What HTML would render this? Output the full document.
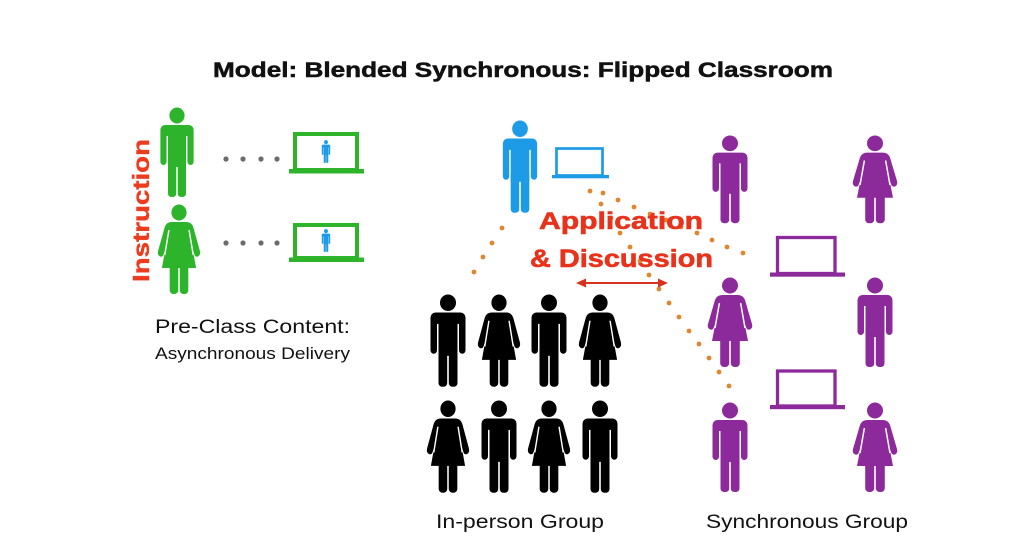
<!DOCTYPE html>
<html>
<head>
<meta charset="utf-8">
<style>
  html,body{margin:0;padding:0;background:#fff;}
  body{width:1024px;height:538px;overflow:hidden;}
  svg{display:block;}
  text{font-family:"Liberation Sans", sans-serif;}
</style>
</head>
<body>
<svg width="1024" height="538" viewBox="0 0 1024 538" xmlns="http://www.w3.org/2000/svg">
  <defs>
    <g id="M">
      <circle cx="0" cy="8.5" r="8"/>
      <rect x="-17.5" y="18" width="35" height="11" rx="5"/>
      <rect x="-17.5" y="22" width="6.5" height="36" rx="3.25"/>
      <rect x="11" y="22" width="6.5" height="36" rx="3.25"/>
      <rect x="-9.5" y="22" width="19" height="38"/>
      <rect x="-9.5" y="50" width="8.7" height="40" rx="3.6"/>
      <rect x="0.8" y="50" width="8.7" height="40" rx="3.6"/>
    </g>
    <g id="F">
      <circle cx="0" cy="8.5" r="8"/>
      <path d="M -8,18 H 8 Q 13,18 15,23 L 22,47 Q 23,51 20,52.5 Q 17,53.5 16,50 L 14.5,46 L 18,64 H -18 L -14.5,46 L -16,50 Q -17,53.5 -20,52.5 Q -23,51 -22,47 L -15,23 Q -13,18 -8,18 Z"/>
      <line x1="-10.6" y1="26" x2="-15" y2="51" stroke="#fff" stroke-width="1.5"/>
      <line x1="10.6" y1="26" x2="15" y2="51" stroke="#fff" stroke-width="1.5"/>
      <rect x="-9.8" y="60" width="9" height="30" rx="3.8"/>
      <rect x="0.8" y="60" width="9" height="30" rx="3.8"/>
    </g>
  </defs>

  <rect width="1024" height="538" fill="#fff"/>

  <!-- Title -->
  <text x="213" y="77" font-size="21" font-weight="bold" fill="#111" stroke="#111" stroke-width="0.5" textLength="620" lengthAdjust="spacingAndGlyphs">Model: Blended Synchronous: Flipped Classroom</text>

  <!-- Left: Instruction -->
  <text transform="translate(149,282) rotate(-90)" x="0" y="0" font-size="23" font-weight="bold" fill="#ec3b1e" stroke="#ec3b1e" stroke-width="0.4" textLength="143" lengthAdjust="spacingAndGlyphs">Instruction</text>

  <use href="#M" transform="translate(177,107) scale(0.95,1.0)" fill="#2db42a"/>
  <use href="#F" transform="translate(179,204) scale(0.95,1.0)" fill="#2db42a"/>

  <!-- gray dots -->
  <g fill="#6b6b6b">
    <circle cx="226" cy="159" r="2.6"/><circle cx="243" cy="159" r="2.6"/><circle cx="261" cy="159" r="2.6"/><circle cx="277" cy="159" r="2.6"/>
    <circle cx="226" cy="243" r="2.6"/><circle cx="243" cy="243" r="2.6"/><circle cx="261" cy="243" r="2.6"/><circle cx="277" cy="243" r="2.6"/>
  </g>

  <!-- green laptops -->
  <g stroke="#2db42a" stroke-width="4" fill="none">
    <rect x="295" y="134" width="62" height="36"/>
    <rect x="295" y="225" width="62" height="33"/>
  </g>
  <g fill="#2db42a">
    <rect x="289" y="169" width="75" height="4.5"/>
    <rect x="289" y="257.5" width="75" height="4.5"/>
  </g>
  <use href="#M" transform="translate(326,140) scale(0.24,0.255)" fill="#1d9be6"/>
  <use href="#M" transform="translate(326,229) scale(0.24,0.255)" fill="#1d9be6"/>

  <text x="155" y="333" font-size="19" fill="#111" textLength="195" lengthAdjust="spacingAndGlyphs">Pre-Class Content:</text>
  <text x="155" y="359" font-size="16.5" fill="#111" textLength="195" lengthAdjust="spacingAndGlyphs">Asynchronous Delivery</text>

  <!-- orange dotted lines -->
  <g fill="#e0862e">
    <circle cx="502" cy="228" r="2.4"/><circle cx="492" cy="243" r="2.4"/><circle cx="483" cy="257" r="2.4"/><circle cx="474" cy="272" r="2.4"/>
    <circle cx="590" cy="191" r="2.4"/><circle cx="603" cy="193" r="2.4"/><circle cx="618" cy="200" r="2.4"/><circle cx="634" cy="207" r="2.4"/>
    <circle cx="650" cy="214" r="2.4"/><circle cx="666" cy="220" r="2.4"/><circle cx="681" cy="227" r="2.4"/>
    <circle cx="697" cy="233" r="2.4"/><circle cx="712" cy="240" r="2.4"/><circle cx="727" cy="247" r="2.4"/><circle cx="743" cy="253" r="2.4"/>
    <circle cx="601" cy="204" r="2.4"/><circle cx="611" cy="218" r="2.4"/><circle cx="620" cy="233" r="2.4"/><circle cx="630" cy="247" r="2.4"/>
    <circle cx="640" cy="261" r="2.4"/><circle cx="649" cy="275" r="2.4"/><circle cx="659" cy="289" r="2.4"/><circle cx="669" cy="303" r="2.4"/>
    <circle cx="679" cy="317" r="2.4"/><circle cx="689" cy="331" r="2.4"/><circle cx="699" cy="344" r="2.4"/><circle cx="709" cy="358" r="2.4"/>
    <circle cx="719" cy="372" r="2.4"/><circle cx="729" cy="386" r="2.4"/>
  </g>

  <!-- Blue teacher + laptop -->
  <use href="#M" transform="translate(520,120) scale(0.98,1.03)" fill="#1d9be6"/>
  <rect x="556.5" y="148.5" width="46" height="27" fill="none" stroke="#1d9be6" stroke-width="2.7"/>
  <rect x="552" y="175" width="57" height="3.3" fill="#1d9be6"/>

  <!-- Application & Discussion -->
  <text x="539" y="229" font-size="24" font-weight="bold" fill="#e8331c" stroke="#e8331c" stroke-width="0.6" textLength="164" lengthAdjust="spacingAndGlyphs">Application</text>
  <text x="530" y="267" font-size="25" font-weight="bold" fill="#e8331c" stroke="#e8331c" stroke-width="0.6" textLength="183" lengthAdjust="spacingAndGlyphs">&amp; Discussion</text>

  <!-- arrow -->
  <line x1="583" y1="283" x2="661" y2="283" stroke="#d8321e" stroke-width="2"/>
  <polygon points="576,283 586,278.5 586,287.5" fill="#d8321e"/>
  <polygon points="668,283 658,278.5 658,287.5" fill="#d8321e"/>

  <!-- In-person group -->
  <g fill="#000">
    <use href="#M" transform="translate(448,294) scale(1,1.03)"/>
    <use href="#F" transform="translate(499,294) scale(0.95,1.03)"/>
    <use href="#M" transform="translate(549,294) scale(1,1.03)"/>
    <use href="#F" transform="translate(600,294) scale(0.95,1.03)"/>
    <use href="#F" transform="translate(448,400) scale(0.95,1.03)"/>
    <use href="#M" transform="translate(499,400) scale(1,1.03)"/>
    <use href="#F" transform="translate(549,400) scale(0.95,1.03)"/>
    <use href="#M" transform="translate(600,400) scale(1,1.03)"/>
  </g>

  <!-- Synchronous group -->
  <g fill="#8d2a9b">
    <use href="#M" transform="translate(730,135) scale(1,0.98)"/>
    <use href="#F" transform="translate(875,135) scale(1,0.98)"/>
    <use href="#F" transform="translate(730,277)"/>
    <use href="#M" transform="translate(875,277)"/>
    <use href="#M" transform="translate(730,402)"/>
    <use href="#F" transform="translate(875,402)"/>
  </g>
  <g stroke="#8d2a9b" stroke-width="3.3" fill="none">
    <rect x="777.5" y="237.5" width="57.5" height="36"/>
    <rect x="777.5" y="371" width="57.5" height="35"/>
  </g>
  <g fill="#8d2a9b">
    <rect x="770" y="272.5" width="75" height="4.2"/>
    <rect x="770" y="405" width="75" height="4.2"/>
  </g>

  <text x="436" y="528" font-size="19.5" fill="#111" textLength="168" lengthAdjust="spacingAndGlyphs">In-person Group</text>
  <text x="706" y="528" font-size="19.5" fill="#111" textLength="202" lengthAdjust="spacingAndGlyphs">Synchronous Group</text>
</svg>
</body>
</html>
